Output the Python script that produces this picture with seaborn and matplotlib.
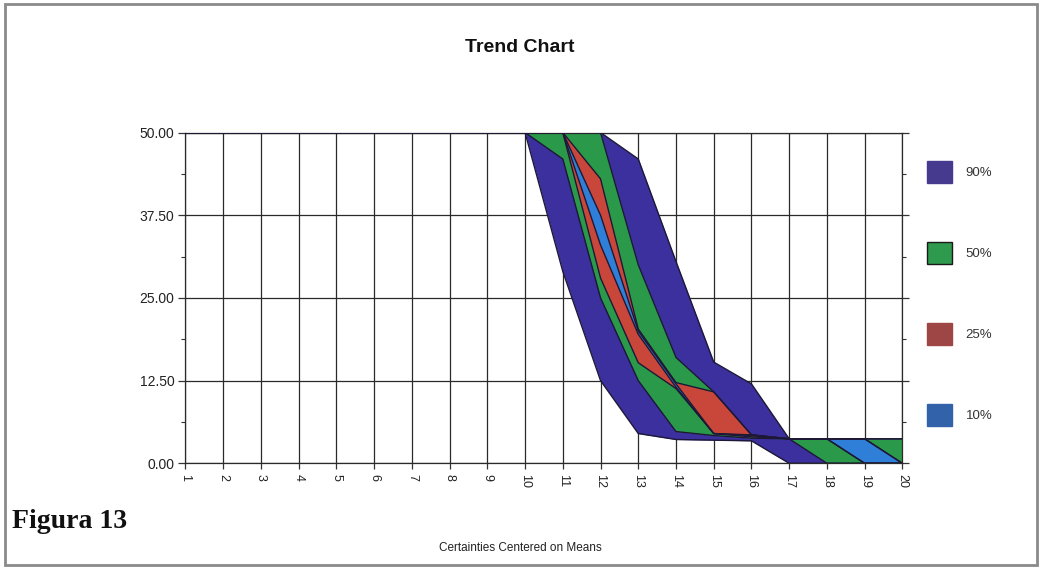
import matplotlib
matplotlib.use("Agg")
import matplotlib.pyplot as plt
from matplotlib.patches import Patch, Rectangle
from matplotlib.ticker import MultipleLocator, FormatStrFormatter
import seaborn as sns
import pandas as pd

# ---------------- data ----------------
x_vals = [1, 2, 3, 4, 5, 6, 7, 8, 9, 10, 11, 12, 13, 14, 15, 16, 17, 18, 19, 20]
x_labels = ["1", "2", "3", "4", "5", "6", "7", "8", "9", "10",
            "11", "12", "13", "14", "15", "16", "17", "18", "19", "20"]
y_ticks = [0.0, 12.5, 25.0, 37.5, 50.0]

# percentile lines (certainty bands centered on the mean)
p05  = [50, 50, 50, 50, 50, 50, 50, 50, 50, 50, 29.0, 12.5, 4.5, 3.6, 3.5, 3.4, 0.0, 0.0, 0.0, 0.0]
p25  = [50, 50, 50, 50, 50, 50, 50, 50, 50, 50, 46.0, 25.0, 12.5, 4.8, 4.2, 3.8, 3.7, 0.0, 0.0, 0.0]
p375 = [50, 50, 50, 50, 50, 50, 50, 50, 50, 50, 50.0, 28.0, 15.2, 11.3, 4.5, 4.0, 3.7, 3.7, 0.0, 0.0]
p45  = [50, 50, 50, 50, 50, 50, 50, 50, 50, 50, 50.0, 33.0, 19.5, 11.5, 4.5, 4.2, 3.7, 3.7, 0.0, 0.0]
p55  = [50, 50, 50, 50, 50, 50, 50, 50, 50, 50, 50.0, 37.5, 20.0, 12.0, 4.5, 4.3, 3.7, 3.7, 3.7, 0.0]
p625 = [50, 50, 50, 50, 50, 50, 50, 50, 50, 50, 50.0, 43.0, 20.3, 12.2, 10.8, 4.3, 3.7, 3.7, 3.7, 0.0]
p75  = [50, 50, 50, 50, 50, 50, 50, 50, 50, 50, 50.0, 50.0, 30.0, 16.0, 10.8, 4.3, 3.7, 3.7, 3.7, 3.7]
p95  = [50, 50, 50, 50, 50, 50, 50, 50, 50, 50, 50.0, 50.0, 46.0, 30.5, 15.3, 12.0, 3.7, 3.7, 3.7, 3.7]

band_labels = ["90%", "50%", "25%", "10%"]
band_colors = ["#3c2f9e", "#2a9a4a", "#c9473a", "#2f7fd8"]
legend_colors = ["#463a8e", "#2e9a4e", "#9e4546", "#3262aa"]

# ---------------- figure ----------------
sns.set_theme(style="white")
plt.rcParams["font.family"] = ["Liberation Sans", "DejaVu Sans"]

fig = plt.figure(figsize=(10.43, 5.68), dpi=100)
fig.patch.set_facecolor("white")
ax = fig.add_axes([0.1778, 0.1843, 0.6874, 0.5824])
ax.set_facecolor("white")

bands = [(p05, p95), (p25, p75), (p375, p625), (p45, p55)]
for (lo, hi), col in zip(bands, band_colors):
    ax.fill_between(x_vals, lo, hi, color=col, linewidth=0, zorder=2)

lines = {"p05": p05, "p25": p25, "p375": p375, "p45": p45,
         "p55": p55, "p625": p625, "p75": p75, "p95": p95}
df = pd.DataFrame([
    {"x": xv, "value": v, "line": name}
    for name, vals in lines.items() for xv, v in zip(x_vals, vals)
])
sns.lineplot(data=df, x="x", y="value", units="line", estimator=None,
             color="#1c1836", linewidth=1.0, ax=ax, zorder=3, legend=False)

ax.set_xlim(1, 20)
ax.set_ylim(0, 50)
ax.set_xticks(x_vals)
ax.set_xticklabels(x_labels, rotation=270, fontsize=9, color="#222222")
ax.set_yticks(y_ticks)
ax.yaxis.set_major_formatter(FormatStrFormatter("%.2f"))
ax.yaxis.set_minor_locator(MultipleLocator(6.25))
for lab in ax.get_yticklabels():
    lab.set_fontsize(10)
    lab.set_color("#222222")
ax.tick_params(axis="y", which="major", direction="out", length=5, width=0.9,
               color="#333333", left=True, right=True, pad=3)
ax.tick_params(axis="y", which="minor", direction="out", length=3, width=0.8,
               color="#333333", left=True, right=True)
ax.tick_params(axis="x", which="major", direction="out", length=4, width=0.9,
               color="#333333", bottom=True, pad=4)

ax.grid(True, which="major", color="#2a2a2a", linewidth=0.9, zorder=1)
ax.set_axisbelow(True)
for sp in ax.spines.values():
    sp.set_color("#2a2a2a")
    sp.set_linewidth(0.9)
ax.set_xlabel("")
ax.set_ylabel("")

# legend
handles = [Patch(facecolor=c, edgecolor=("#1a1a1a" if lbl == "50%" else c), linewidth=1.0)
           for c, lbl in zip(legend_colors, band_labels)]
leg = fig.legend(handles, band_labels, loc="upper left",
                 bbox_to_anchor=(922 / 1043, 1 - 156 / 568),
                 frameon=False, fontsize=9.5, handlelength=1.9, handleheight=2.2,
                 labelspacing=4.45, handletextpad=1.0, borderaxespad=0.0)
for t in leg.get_texts():
    t.set_color("#333333")

# titles and texts
fig.text(520 / 1043, 1 - 47 / 568, "Trend Chart", ha="center", va="center",
         fontsize=14, fontweight="bold", color="#111111")
fig.text(520 / 1043, 1 - 548 / 568, "Certainties Centered on Means", ha="center",
         va="center", fontsize=8.5, color="#222222")
fig.text(12 / 1043, 1 - 521 / 568, "Figura 13", ha="left", va="center",
         fontsize=20, fontweight="bold", color="#111111",
         family=["Liberation Serif", "DejaVu Serif"])

# outer frame of the figure
fig.add_artist(Rectangle((5 / 1043, 3 / 568), 1032 / 1043, 561 / 568,
                         transform=fig.transFigure, fill=False,
                         edgecolor="#8a8a8a", linewidth=2.0))

fig.savefig("out.png", dpi=100, facecolor="white")
